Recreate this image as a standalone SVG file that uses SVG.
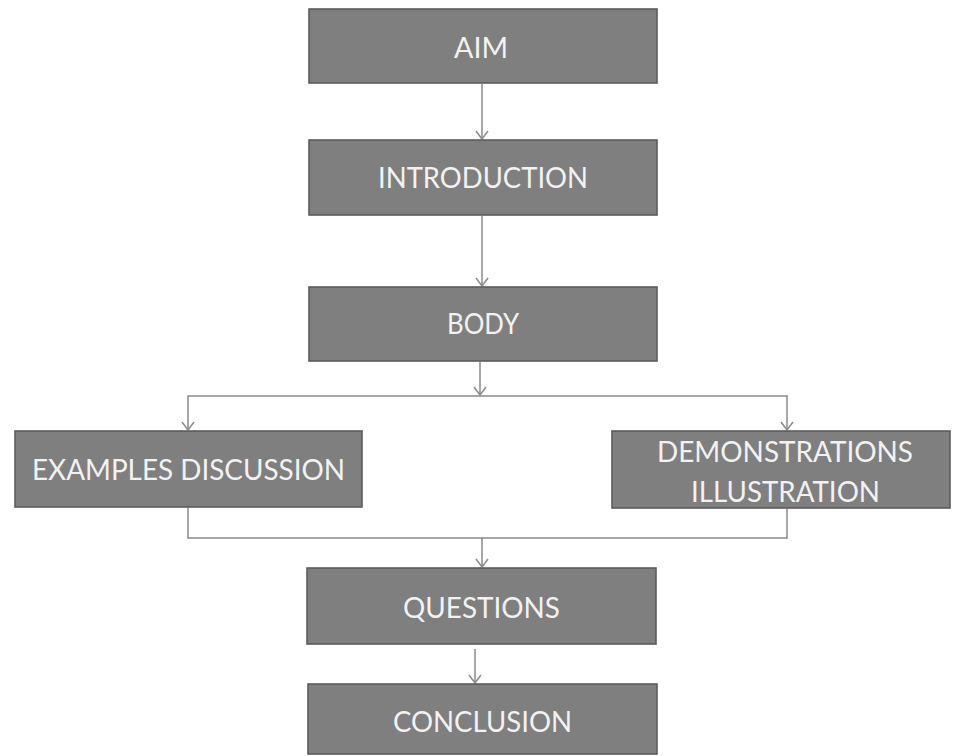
<svg xmlns="http://www.w3.org/2000/svg" width="955" height="756" viewBox="0 0 955 756">
  <defs>
    <!-- open V arrowhead, drawn along +x so orient="auto" points it down the wire -->
    <marker id="arrow" viewBox="0 0 10 14" refX="9" refY="7" markerWidth="10" markerHeight="14" markerUnits="userSpaceOnUse" orient="auto-start-reverse">
      <path d="M1,1 L9,7 L1,13" fill="none" stroke="#8a8a8a" stroke-width="1.5"/>
    </marker>
    <style>
      .box { fill: #7f7f7f; stroke: #5c5c5c; stroke-width: 1.6; }
      .lbl { font-family: Lato, "Open Sans", "Liberation Sans", sans-serif; font-size: 28px; fill: #f2f2f2; text-anchor: middle; }
      .wire { fill: none; stroke: #8a8a8a; stroke-width: 1.5; }
    </style>
  </defs>
  <rect width="955" height="756" fill="#ffffff"/>

  <g id="connectors">
    <line class="wire" x1="482" y1="84" x2="482" y2="139" marker-end="url(#arrow)"/>
    <line class="wire" x1="482" y1="216" x2="482" y2="286" marker-end="url(#arrow)"/>
    <line class="wire" x1="480" y1="362" x2="480" y2="395" marker-end="url(#arrow)"/>
    <polyline class="wire" points="188,430 188,396 787,396 787,430" marker-start="url(#arrow)" marker-end="url(#arrow)"/>
    <polyline class="wire" points="188,508 188,538 787,538 787,509"/>
    <line class="wire" x1="482" y1="538" x2="482" y2="567" marker-end="url(#arrow)"/>
    <line class="wire" x1="475" y1="649" x2="475" y2="683" marker-end="url(#arrow)"/>
  </g>

  <g id="aim">
    <rect class="box" x="309" y="9" width="348" height="74"/>
    <text class="lbl" x="481" y="58" textLength="54" lengthAdjust="spacingAndGlyphs">AIM</text>
  </g>
  <g id="introduction">
    <rect class="box" x="309" y="140" width="348" height="75"/>
    <text class="lbl" x="483" y="188" textLength="210" lengthAdjust="spacingAndGlyphs">INTRODUCTION</text>
  </g>
  <g id="body">
    <rect class="box" x="309" y="287" width="348" height="74"/>
    <text class="lbl" x="483" y="334" textLength="72" lengthAdjust="spacingAndGlyphs">BODY</text>
  </g>
  <g id="examples-discussion">
    <rect class="box" x="15" y="431" width="347" height="76"/>
    <text class="lbl" x="188.5" y="480" textLength="313" lengthAdjust="spacingAndGlyphs">EXAMPLES DISCUSSION</text>
  </g>
  <g id="demonstrations-illustration">
    <rect class="box" x="612" y="431" width="338" height="77"/>
    <text class="lbl" x="785" y="462" textLength="256" lengthAdjust="spacingAndGlyphs">DEMONSTRATIONS</text>
    <text class="lbl" x="785.5" y="502" textLength="189" lengthAdjust="spacingAndGlyphs">ILLUSTRATION</text>
  </g>
  <g id="questions">
    <rect class="box" x="307" y="568" width="349" height="76"/>
    <text class="lbl" x="481.5" y="618" textLength="157" lengthAdjust="spacingAndGlyphs">QUESTIONS</text>
  </g>
  <g id="conclusion">
    <rect class="box" x="308" y="684" width="349" height="70"/>
    <text class="lbl" x="482.5" y="732" textLength="179" lengthAdjust="spacingAndGlyphs">CONCLUSION</text>
  </g>
</svg>
